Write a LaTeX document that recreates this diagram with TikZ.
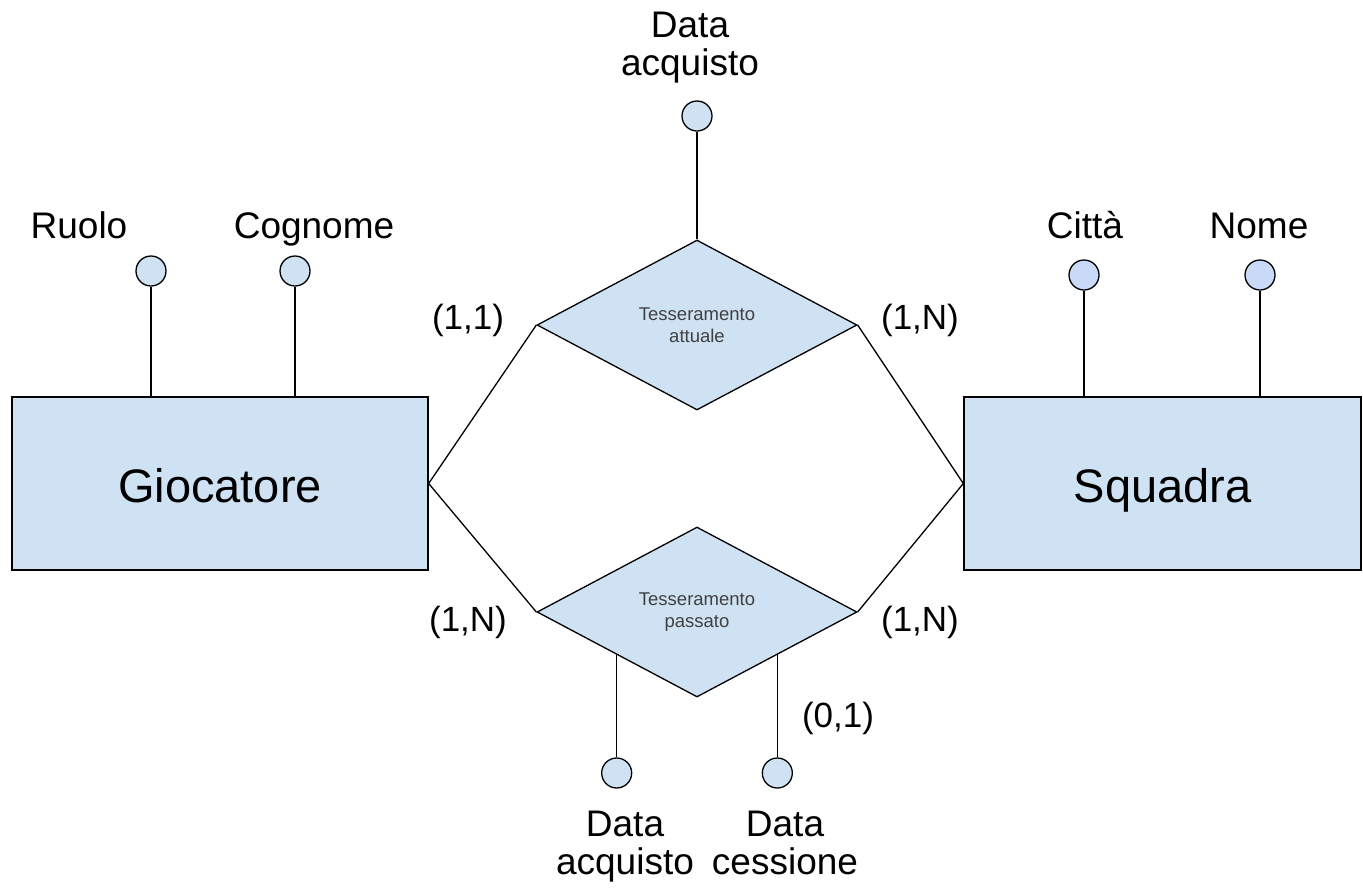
\documentclass[tikz,border=0pt]{standalone}
\usepackage{fontspec}
\setmainfont{Liberation Sans}
\usepackage{tikz}
\usetikzlibrary{shapes.geometric,calc}
\definecolor{entblue}{HTML}{CFE2F3}
\definecolor{attrblue}{HTML}{C9DAF8}

\begin{document}
\begin{tikzpicture}[
  x=1pt, y=-1pt,
  line width=1.3pt,
  entity/.style={rectangle, draw, fill=entblue, minimum width=416pt, minimum height=173pt, inner sep=0pt, text height=40pt, text depth=3pt, font=\fontsize{47}{52}\selectfont},
  relation/.style={diamond, draw, fill=entblue, minimum width=320pt, minimum height=170pt, inner sep=0pt, align=center, text=black!75, font=\fontsize{18.5}{22}\selectfont},
  attr/.style={circle, draw, fill=entblue, minimum size=30pt, inner sep=0pt},
  lbl/.style={align=center, inner sep=0pt, font=\fontsize{37}{38}\selectfont},
  card/.style={inner sep=0pt, font=\fontsize{35}{38}\selectfont}
]
\useasboundingbox (0,0) rectangle (1363,887);
% entities
\node[entity] (gioc) at (220,483.5) {Giocatore};
\node[entity, minimum width=397pt] (squad) at (1162.5,483.5) {Squadra};
% relationships
\node[relation] (tatt) at (697,325) {Tesseramento\\attuale};
\node[relation] (tpas) at (697,612) {Tesseramento\\passato};
\draw (gioc.east) -- (tatt.west);
\draw (gioc.east) -- (tpas.west);
\draw (squad.west) -- (tatt.east);
\draw (squad.west) -- (tpas.east);
% attributes of Giocatore
\node[attr] (ruolo) at (151,271) {};
\node[attr] (cogn) at (295,271) {};
\node[lbl, anchor=base] (lruolo) at (79,238) {Ruolo};
\node[lbl, anchor=base] (lcogn) at (314,238) {Cognome};
\draw (ruolo) -- (ruolo |- gioc.north);
\draw (cogn) -- (cogn |- gioc.north);
% attributes of Squadra
\node[attr, fill=attrblue] (citta) at (1084,275) {};
\node[attr, fill=attrblue] (nome) at (1260,275) {};
\node[lbl, anchor=base] (lcitta) at (1085,238) {Città};
\node[lbl, anchor=base] (lnome) at (1259,238) {Nome};
\draw (citta) -- (citta |- squad.north);
\draw (nome) -- (nome |- squad.north);
% attribute of Tesseramento attuale
\node[attr] (dacq) at (697,116) {};
\node[lbl, anchor=north] (ldacq) at (690,11) {Data\\acquisto};
\draw (dacq) -- (tatt.north);
% attributes of Tesseramento passato
\coordinate (pl) at ($(tpas.west)!0.5!(tpas.south)$);
\coordinate (pr) at ($(tpas.south)!0.5!(tpas.east)$);
\node[attr] (pacq) at (pl |- 0,773) {};
\node[attr] (pces) at (pr |- 0,773) {};
\node[lbl, anchor=north] (lpacq) at (625,810) {Data\\acquisto};
\node[lbl, anchor=north] (lpces) at (785,810) {Data\\cessione};
\draw (pl) -- (pacq);
\draw (pr) -- (pces);
% cardinalities
\node[card] (c1) at (468,320) {(1,1)};
\node[card] (c2) at (920,320) {(1,N)};
\node[card] (c3) at (468,622) {(1,N)};
\node[card] (c4) at (920,622) {(1,N)};
\node[card] (c5) at (838,718) {(0,1)};
\end{tikzpicture}
\end{document}
